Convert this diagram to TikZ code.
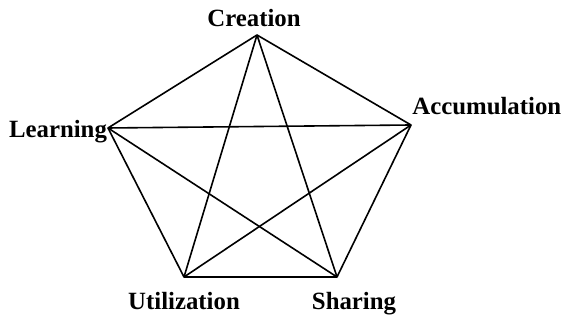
\documentclass[tikz,border=0pt]{standalone}
\usepackage{fontspec}
\setmainfont{Liberation Serif}
\begin{document}
\begin{tikzpicture}[x=0.5pt,y=-0.5pt,
  edge/.style={draw=black,line width=0.8pt,line join=round},
  lbl/.style={inner sep=0pt,font=\bfseries\fontsize{12.4}{15}\selectfont}]
\useasboundingbox (0,0) rectangle (566,324);
\coordinate (C) at (257,35);
\coordinate (A) at (411,125);
\coordinate (L) at (108,128);
\coordinate (U) at (184,277);
\coordinate (S) at (337,277);
% pentagon
\draw[edge] (C) -- (A) -- (S) -- (U) -- (L) -- cycle;
% diagonals
\draw[edge] (C) -- (U);
\draw[edge] (C) -- (S);
\draw[edge] (L) -- (A);
\draw[edge] (L) -- (S);
\draw[edge] (A) -- (U);
% labels
\node[lbl,anchor=base] (tC) at (254,27) {Creation};
\node[lbl,anchor=base] (tL) at (58,138) {Learning};
\node[lbl,anchor=base west] (tA) at (412,115) {Accumulation};
\node[lbl,anchor=base] (tU) at (184,310) {Utilization};
\node[lbl,anchor=base] (tS) at (354,310) {Sharing};
\end{tikzpicture}
\end{document}
